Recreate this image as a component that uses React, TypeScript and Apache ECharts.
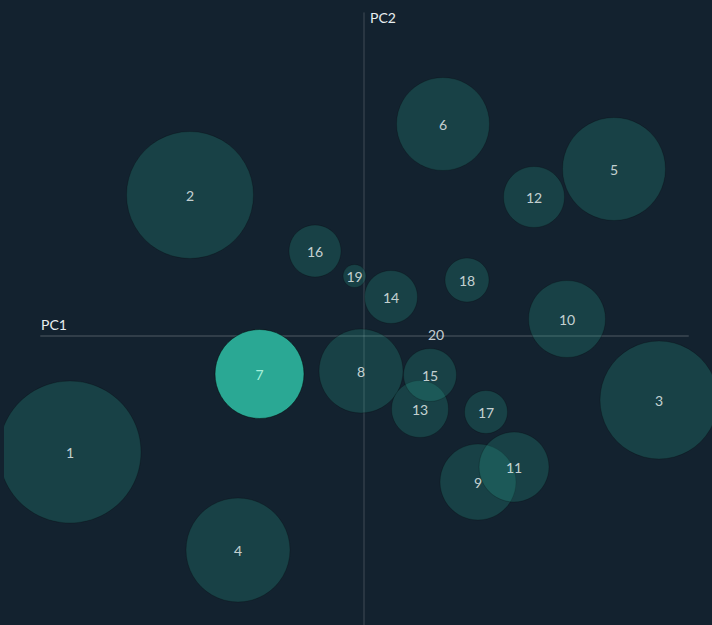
import React, { useEffect, useRef } from "react";
import * as echarts from "echarts";

const labels = ["1","2","3","4","5","6","7","8","9","10","11","12","13","14","15","16","17","18","19","20"];
const pc1 = [-2.94,-1.74,2.95,-1.26,2.5,0.79,-1.045,-0.03,1.14,2.03,1.5,1.7,0.56,0.27,0.66,-0.49,1.22,1.03,-0.095,0.72];
const pc2 = [-1.16,1.41,-0.64,-2.14,1.67,2.12,-0.38,-0.35,-1.46,0.17,-1.31,1.39,-0.73,0.39,-0.39,0.85,-0.76,0.56,0.6,0.02];
const sizes = [142,127,118,104,103,93,89,84,76,77,70,61,57,53,53,52,43,44,23,0];
const highlighted = "7";

const BG = "#13222f";

export default function App() {
  const ref = useRef<HTMLDivElement>(null);
  useEffect(() => {
    document.body.style.margin = "0";
    document.body.style.background = BG;
    const chart = echarts.init(ref.current!, null, { renderer: "svg" });
    const data = labels.map((l, i) => {
      const hi = l === highlighted;
      return {
        name: l,
        value: [pc1[i], pc2[i]],
        symbolSize: sizes[i],
        itemStyle: hi
          ? { color: "#2aa894", opacity: 1, borderColor: "rgba(0,0,0,0.45)", borderWidth: 1 }
          : { color: "rgba(42,168,148,0.3)", borderColor: "rgba(0,0,0,0.25)", borderWidth: 1 },
        label: { color: hi ? "#a6f0da" : "#f2f7f7" },
      };
    });
    chart.setOption({
      animation: false,
      backgroundColor: BG,
      textStyle: { fontFamily: "Lato" },
      grid: { left: 37, right: 24, top: 13, bottom: 0 },
      xAxis: {
        type: "value",
        min: -3.23,
        max: 3.24,
        name: "PC1",
        nameLocation: "start",
        nameGap: 0,
        nameTextStyle: { color: "#e8eef0", fontSize: 14, fontFamily: "Lato", align: "left", verticalAlign: "bottom", padding: [0, 0, 5, 0] },
        axisLine: { show: true, onZero: true, lineStyle: { color: "rgba(255,255,255,0.13)", width: 2 } },
        axisTick: { show: false },
        axisLabel: { show: false },
        splitLine: { show: false },
      },
      yAxis: {
        type: "value",
        min: -2.89,
        max: 3.23,
        name: "PC2",
        nameLocation: "end",
        nameGap: -4,
        nameTextStyle: { color: "#e8eef0", fontSize: 14, fontFamily: "Lato", align: "left", verticalAlign: "middle", padding: [0, 0, 0, 6] },
        axisLine: { show: true, onZero: true, lineStyle: { color: "rgba(255,255,255,0.13)", width: 1.5 } },
        axisTick: { show: false },
        axisLabel: { show: false },
        splitLine: { show: false },
      },
      series: [
        {
          type: "scatter",
          clip: false,
          data,
          label: {
            show: true,
            position: "inside",
            formatter: "{b}",
            fontSize: 14,
            fontFamily: "Lato",
          },
        },
      ],
    });
    return () => chart.dispose();
  }, []);
  return (
    <div style={{ position: "absolute", left: 4, top: 0, width: 708, height: 625, overflow: "hidden" }}>
      <div ref={ref} style={{ width: 708, height: 625 }} />
    </div>
  );
}
